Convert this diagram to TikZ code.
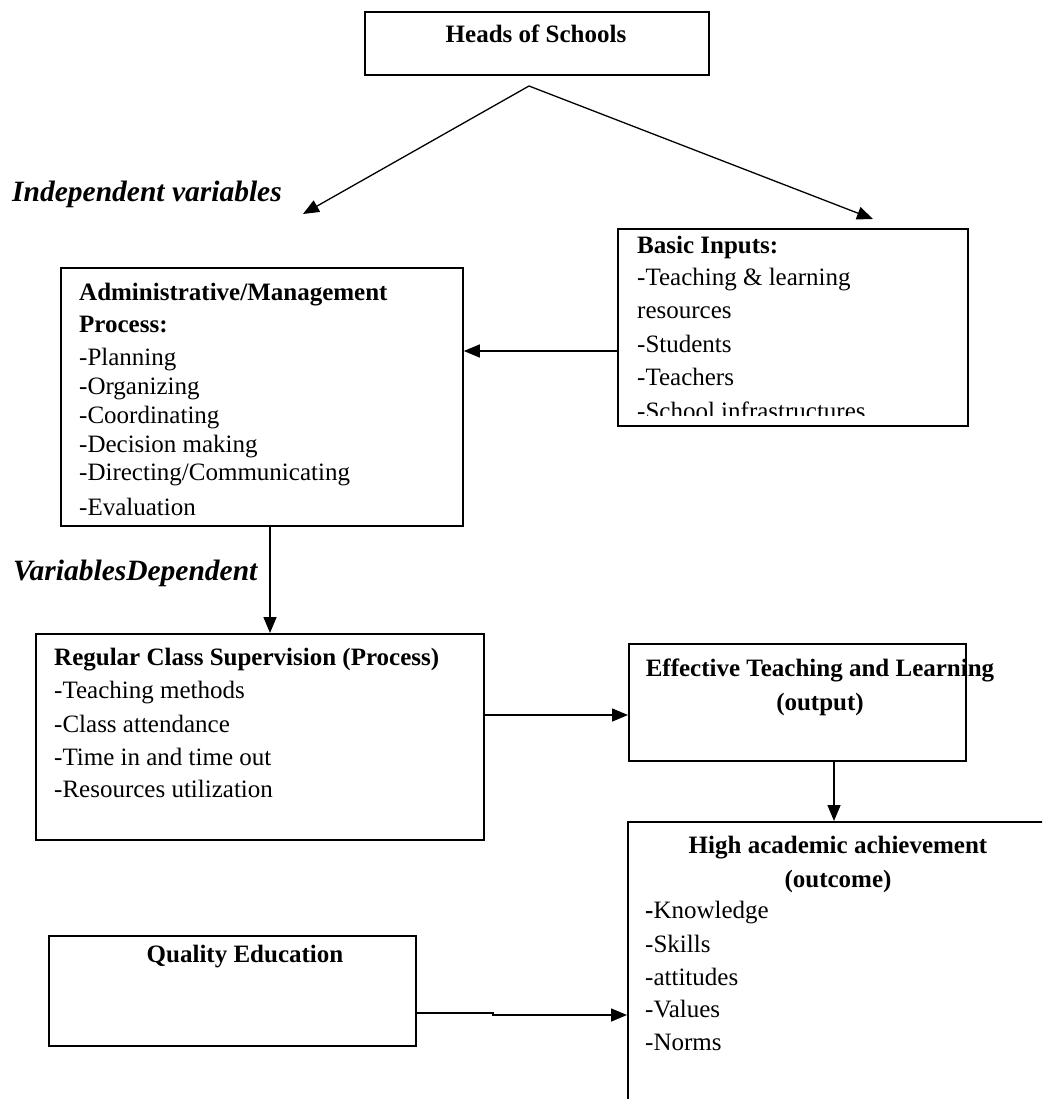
\documentclass[tikz,border=0pt]{standalone}
\usepackage{fontspec}
\setmainfont{Liberation Serif}
\usetikzlibrary{arrows.meta}
\begin{document}
\begin{tikzpicture}[x=1pt,y=-1pt,
  box/.style={draw, line width=1.8pt, inner sep=0pt, anchor=north west},
  txt/.style={anchor=base west, inner sep=0pt, font=\fontsize{25}{30}\selectfont},
  btxt/.style={anchor=base west, inner sep=0pt, font=\fontsize{25}{30}\selectfont\bfseries},
  ctxt/.style={anchor=base, inner sep=0pt, font=\fontsize{25}{30}\selectfont\bfseries},
  itxt/.style={anchor=base west, inner sep=0pt, font=\fontsize{29.5}{34}\selectfont\bfseries\itshape},
  arr/.style={line width=1.5pt, -{Triangle[length=16pt,width=13pt]}},
]
\useasboundingbox (0,0) rectangle (1042,1099);
\clip (0,0) rectangle (1042,1099);

% Heads of Schools
\node[box, minimum width=344pt, minimum height=63pt] (heads) at (364,11) {};
\node[ctxt] (headst) at (536,43) {Heads of Schools};
\coordinate (apex) at (529,86);
\coordinate (ltip) at (303,214);
\coordinate (rtip) at (873,219);
\draw[arr, line width=1.3pt] (apex) -- (ltip);
\draw[arr, line width=1.3pt] (apex) -- (rtip);

\node[itxt] (indep) at (12,202) {Independent variables};

% Administrative box
\node[box, minimum width=402pt, minimum height=258pt] (adm) at (60,267) {};
\node[btxt] (adm1) at (79,300) {Administrative/Management};
\node[btxt] (adm2) at (79,332) {Process:};
\node[txt] (adm3) at (79,365) {-Planning};
\node[txt] (adm4) at (79,394) {-Organizing};
\node[txt] (adm5) at (79,423) {-Coordinating};
\node[txt] (adm6) at (79,452) {-Decision making};
\node[txt] (adm7) at (79,480) {-Directing/Communicating};
\node[txt] (adm8) at (79,515) {-Evaluation};

% Basic inputs box
\node[box, minimum width=350pt, minimum height=197pt] (basic) at (617,228) {};
\begin{scope}
\clip (617,228) rectangle (967,415);
\node[btxt] (bas1) at (637,253) {Basic Inputs:};
\node[txt] (bas2) at (637,285) {-Teaching \& learning};
\node[txt] (bas3) at (637,318) {resources};
\node[txt] (bas4) at (637,352) {-Students};
\node[txt] (bas5) at (637,385) {-Teachers};
\node[txt] (bas6) at (637,419) {-School infrastructures};
\end{scope}

\coordinate (yb) at (0,351);
\draw[arr] (basic.west |- yb) -- (adm.east |- yb);

% Dependent
\node[itxt] (dep) at (13,580) {VariablesDependent};

% Regular class supervision box
\node[box, minimum width=448pt, minimum height=206pt] (reg) at (35,633) {};
\node[btxt] (reg1) at (54,665) {Regular Class Supervision (Process)};
\node[txt] (reg2) at (54,698) {-Teaching methods};
\node[txt] (reg3) at (54,732) {-Class attendance};
\node[txt] (reg4) at (54,765) {-Time in and time out};
\node[txt] (reg5) at (54,797) {-Resources utilization};

\coordinate (xa) at (270,0);
\draw[arr] (adm.south -| xa) -- (reg.north -| xa);

% Effective teaching box
\node[box, minimum width=337pt, minimum height=117pt] (eff) at (628,643) {};
\node[ctxt] (eff1) at (820,676) {Effective Teaching and Learning};
\node[ctxt] (eff2) at (820,710) {(output)};

\coordinate (ye) at (0,715);
\draw[arr] (reg.east |- ye) -- (eff.west |- ye);

% High academic achievement box (runs off the page)
\node[box, minimum width=430pt, minimum height=300pt] (high) at (627,821) {};
\node[ctxt] (high1) at (838,853) {High academic achievement};
\node[ctxt] (high2) at (838,887) {(outcome)};
\node[txt] (high3) at (645,918) {\textbf{-}Knowledge};
\node[txt] (high4) at (645,952) {-Skills};
\node[txt] (high5) at (645,985) {-attitudes};
\node[txt] (high6) at (645,1017) {-Values};
\node[txt] (high7) at (645,1050) {-Norms};

\coordinate (xh) at (834,0);
\draw[arr] (eff.south -| xh) -- (high.north -| xh);

% Quality education box
\node[box, minimum width=367pt, minimum height=110pt] (qual) at (48,935) {};
\node[ctxt] (qual1) at (245,962) {Quality Education};

\coordinate (yq) at (0,1013);
\coordinate (yq2) at (0,1015);
\coordinate (bend) at (493,1013);
\coordinate (bend2) at (493,1015);
\draw[arr] (qual.east |- yq) -- (bend) -- (bend2) -- (high.west |- yq2);
\end{tikzpicture}
\end{document}
